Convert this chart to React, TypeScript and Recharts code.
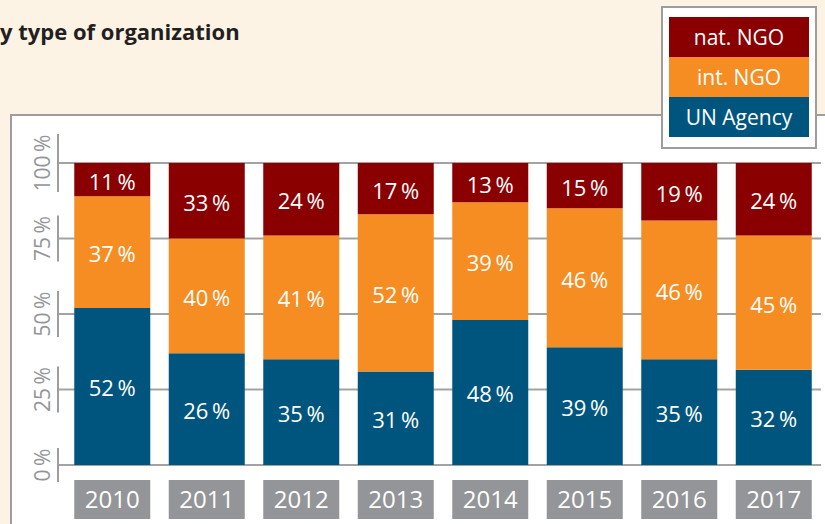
import { BarChart, Bar, XAxis, YAxis, CartesianGrid, LabelList } from "recharts";

// bar heights as drawn (2011 bars in the source do not match their printed labels)
const years = ["2010", "2011", "2012", "2013", "2014", "2015", "2016", "2017"];
const unAgency = [52, 37, 35, 31, 48, 39, 35, 31.5];
const intNgo = [37, 38, 41, 52, 39, 46, 46, 44.5];
const natNgo = [11, 25, 24, 17, 13, 15, 19, 24];

// printed percentages
const unLabels = [52, 26, 35, 31, 48, 39, 35, 32];
const intLabels = [37, 40, 41, 52, 39, 46, 46, 45];
const natLabels = [11, 33, 24, 17, 13, 15, 19, 24];

const yTicks = [0, 25, 50, 75, 100];

const pct = (v: number) => `${v}\u2009%`;

const data = years.map((year, i) => ({
  year,
  un: unAgency[i],
  int: intNgo[i],
  nat: natNgo[i],
  unLabel: pct(unLabels[i]),
  intLabel: pct(intLabels[i]),
  natLabel: pct(natLabels[i])
}));

const FONT = "'Open Sans', sans-serif";
const GRAY = "#939598";
const RED = "#8a0000";
const ORANGE = "#f58d22";
const BLUE = "#00557f";

const SegLabel = (props: any) => {
  const vb = props.viewBox || {};
  const x = props.x ?? vb.x;
  const y = props.y ?? vb.y;
  const width = props.width ?? vb.width;
  const height = props.height ?? vb.height;
  return (
    <text
      x={x + width / 2}
      y={y + height / 2 + 2}
      dy="0.36em"
      textAnchor="middle"
      fill="#fff"
      fontSize={22}
      fontFamily={FONT}>
      {props.value}
    </text>);
};

const YearTick = ({ x, payload }: any) =>
<g>
    <rect x={x - 38} y={480} width={76} height={39} fill={GRAY} />
    <text
    x={x}
    y={499.5}
    dy="0.36em"
    textAnchor="middle"
    fill="#fff"
    fontSize={24}
    fontFamily={FONT}>
      {payload.value}
    </text>
  </g>;

const PctTick = ({ y, payload }: any) => {
  const digits = String(payload.value).length;
  const len = digits * 12 + 22;
  return (
    <g>
      <line x1={58} x2={58} y1={y - len / 2} y2={y + len / 2} stroke="#9d9d9d" strokeWidth={2} />
      <text
        transform={`translate(50, ${y}) rotate(-90)`}
        textAnchor="middle"
        fill={GRAY}
        fontSize={21}
        fontFamily={FONT}>
        {pct(payload.value)}
      </text>
    </g>);
};

const legendItems = [
{ name: "nat. NGO", color: RED },
{ name: "int. NGO", color: ORANGE },
{ name: "UN Agency", color: BLUE }];

export default function App() {
  return (
    <div
      style={{
        position: "absolute",
        left: 0,
        top: 0,
        width: 825,
        height: 524,
        overflow: "hidden",
        background: "#fcf3e5",
        fontFamily: FONT
      }}>
      <div
        style={{
          position: "absolute",
          left: 0,
          top: 20,
          fontSize: 22,
          lineHeight: "22px",
          fontWeight: 700,
          color: "#231f20",
          whiteSpace: "nowrap"
        }}>
        y type of organization
      </div>
      <div
        style={{
          position: "absolute",
          left: 10,
          top: 114,
          width: 900,
          height: 500,
          border: "2px solid #9d9d9d",
          background: "#fff",
          boxSizing: "border-box"
        }} />
      <div style={{ position: "absolute", left: 0, top: 0 }}>
        <BarChart
          width={825}
          height={524}
          data={data}
          margin={{ top: 163, right: 4, bottom: 0, left: 0 }}
          barCategoryGap="9.8%">
          <CartesianGrid vertical={false} stroke="#a3a3a3" strokeWidth={2} />
          <XAxis
            dataKey="year"
            height={59}
            axisLine={false}
            tickLine={false}
            interval={0}
            padding={{ left: 7, right: 0 }}
            tick={<YearTick />} />
          <YAxis
            width={58}
            domain={[0, 100]}
            ticks={yTicks}
            axisLine={false}
            tickLine={false}
            tick={<PctTick />} />
          <Bar dataKey="un" stackId="a" fill={BLUE} isAnimationActive={false}>
            <LabelList dataKey="unLabel" content={<SegLabel />} />
          </Bar>
          <Bar dataKey="int" stackId="a" fill={ORANGE} isAnimationActive={false}>
            <LabelList dataKey="intLabel" content={<SegLabel />} />
          </Bar>
          <Bar dataKey="nat" stackId="a" fill={RED} isAnimationActive={false}>
            <LabelList dataKey="natLabel" content={<SegLabel />} />
          </Bar>
        </BarChart>
      </div>
      <div
        style={{
          position: "absolute",
          left: 661,
          top: 6,
          width: 156,
          height: 143,
          border: "2px solid #9d9d9d",
          background: "#fff",
          boxSizing: "border-box",
          paddingTop: 9,
          paddingLeft: 6
        }}>
        {legendItems.map((it) =>
        <div
          key={it.name}
          style={{
            width: 140,
            height: 40,
            background: it.color,
            color: "#fff",
            fontSize: 21,
            lineHeight: "40px",
            textAlign: "center"
          }}>
            {it.name}
          </div>
        )}
      </div>
    </div>);
}
